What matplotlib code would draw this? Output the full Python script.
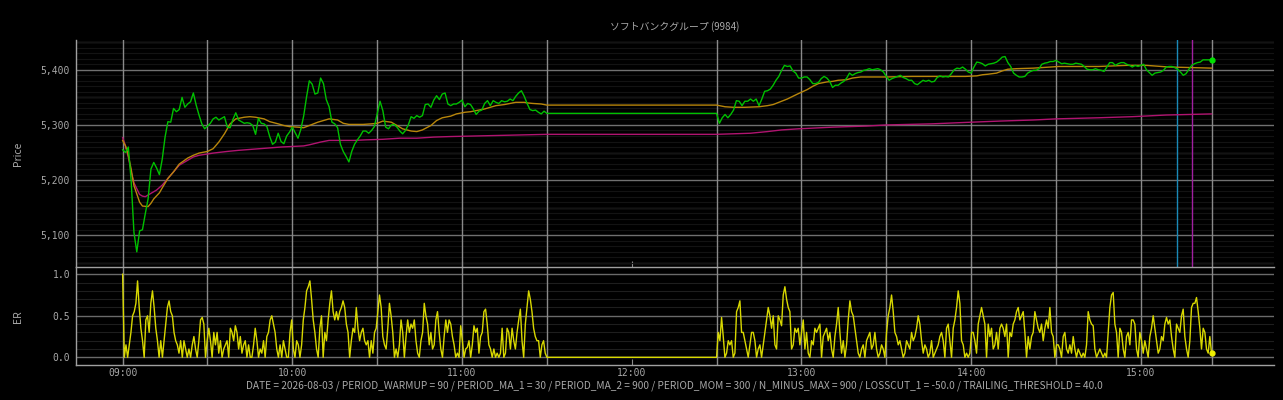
import numpy as np
import matplotlib
matplotlib.use("Agg")
import matplotlib.pyplot as plt
import matplotlib.ticker as ticker

plt.rcParams['font.family'] = ['Noto Sans CJK JP', 'DejaVu Sans']

TITLE = "ソフトバンクグループ (9984)"
FOOTER = ("DATE = 2026-08-03 / PERIOD_WARMUP = 90 / PERIOD_MA_1 = 30 / PERIOD_MA_2 = 900 / "
          "PERIOD_MOM = 300 / N_MINUS_MAX = 900 / LOSSCUT_1 = -50.0 / TRAILING_THRESHOLD = 40.0")

# all times are minutes after 09:00
AM_START, AM_END = 0, 150      # 09:00 - 11:30
PM_START, PM_END = 210, 385    # 12:30 - 15:25

# price, one value per minute
price_am = [
    5255, 5250, 5260, 5200, 5105, 5070, 5108, 5110, 5139, 5166,
    5220, 5232, 5222, 5210, 5238, 5278, 5306, 5305, 5330, 5324,
    5328, 5350, 5332, 5338, 5342, 5358, 5336, 5318, 5302, 5293,
    5298, 5303, 5311, 5314, 5309, 5312, 5315, 5296, 5295, 5310,
    5322, 5309, 5306, 5303, 5304, 5303, 5299, 5283, 5312, 5303,
    5302, 5297, 5279, 5265, 5269, 5285, 5270, 5266, 5280, 5287,
    5296, 5286, 5276, 5292, 5316, 5350, 5380, 5374, 5356, 5358,
    5385, 5375, 5346, 5333, 5305, 5302, 5295, 5265, 5252, 5243,
    5233, 5252, 5265, 5273, 5280, 5289, 5289, 5285, 5290, 5297,
    5320, 5343, 5326, 5296, 5293, 5300, 5301, 5296, 5289, 5284,
    5290, 5300, 5315, 5312, 5317, 5314, 5317, 5337, 5338, 5332,
    5345, 5353, 5346, 5356, 5358, 5338, 5335, 5338, 5338, 5341,
    5345, 5333, 5339, 5337, 5329, 5319, 5325, 5327, 5339, 5344,
    5335, 5344, 5341, 5339, 5344, 5342, 5343, 5347, 5344, 5352,
    5358, 5362, 5352, 5339, 5328, 5326, 5327, 5323, 5320, 5325,
    5321,
]
price_pm = [
    5321, 5303, 5313, 5319, 5313, 5319, 5327, 5344, 5343, 5335,
    5343, 5343, 5347, 5343, 5347, 5335, 5347, 5361, 5362, 5365,
    5372, 5381, 5388, 5399, 5408, 5406, 5407, 5398, 5394, 5385,
    5385, 5387, 5387, 5382, 5375, 5375, 5377, 5384, 5388, 5385,
    5379, 5368, 5372, 5372, 5376, 5379, 5385, 5394, 5390, 5393,
    5395, 5396, 5399, 5400, 5402, 5400, 5401, 5402, 5400, 5396,
    5388, 5381, 5384, 5386, 5388, 5390, 5386, 5384, 5381, 5381,
    5375, 5373, 5377, 5381, 5379, 5381, 5378, 5379, 5386, 5389,
    5387, 5388, 5387, 5393, 5400, 5403, 5402, 5405, 5401, 5396,
    5394, 5405, 5414, 5413, 5411, 5407, 5410, 5411, 5412, 5414,
    5418, 5423, 5424, 5413, 5406, 5394, 5390, 5387, 5387, 5388,
    5394, 5397, 5399, 5399, 5402, 5410, 5412, 5413, 5415, 5415,
    5417, 5414, 5411, 5412, 5411, 5410, 5410, 5412, 5411, 5410,
    5406, 5401, 5400, 5400, 5402, 5400, 5399, 5397, 5405, 5413,
    5413, 5408, 5411, 5413, 5413, 5410, 5408, 5405, 5408, 5406,
    5408, 5410, 5400, 5395, 5390, 5394, 5395, 5396, 5399, 5405,
    5406, 5406, 5404, 5401, 5396, 5390, 5393, 5401, 5408, 5411,
    5413, 5414, 5418, 5418, 5418, 5418,
]

# moving averages read at irregular times
ma1_t = [0, 1, 2, 3, 4, 5, 6, 7, 9, 10, 11, 13, 14, 16, 18, 20, 23, 25, 27, 30,
         32, 34, 36, 38, 40, 43, 45, 47, 50, 52, 55, 57, 59, 62, 64, 66, 69, 71, 73, 76,
         78, 80, 83, 85, 88, 90, 92, 95, 97, 99, 102, 104, 106, 109, 111, 113, 116, 118,
         121, 123, 125, 128, 130, 132, 135, 137, 139, 142, 143, 145, 148, 150,
         210, 213, 216, 220, 225, 228, 230, 232, 235, 237, 239, 242, 244, 246, 249, 251,
         253, 256, 258, 261, 270, 279, 289, 298, 302, 304, 306, 309, 311, 313, 316, 322,
         328, 331, 338, 345, 355, 362, 370, 378, 385]
ma1_v = [5272, 5262, 5245, 5220, 5190, 5175, 5160, 5153, 5152, 5158, 5166, 5177, 5186, 5203,
         5215, 5229, 5240, 5245, 5249, 5252, 5257, 5269, 5284, 5302, 5311, 5314, 5315, 5314,
         5311, 5306, 5302, 5299, 5297, 5296, 5295, 5299, 5305, 5308, 5311, 5309, 5303, 5301,
         5301, 5301, 5302, 5303, 5307, 5305, 5299, 5293, 5289, 5288, 5291, 5299, 5308, 5313,
         5316, 5320, 5323, 5324, 5326, 5329, 5332, 5335, 5337, 5339, 5341, 5341, 5340, 5339,
         5338, 5336,
         5336, 5333, 5332, 5332, 5333, 5335, 5337, 5341, 5347, 5352, 5357, 5364, 5370, 5375,
         5378, 5379, 5381, 5382, 5385, 5387, 5387, 5388, 5388, 5388, 5389, 5391, 5392, 5394,
         5398, 5401, 5402, 5403, 5405, 5406, 5406, 5406, 5408, 5408, 5405, 5404, 5403]

ma2_t = [0, 1, 2, 3, 4, 6, 7, 8, 10, 12, 14, 16, 18, 20, 23, 25, 27, 32, 37, 41, 46, 51,
         56, 60, 64, 66, 70, 73, 82, 86, 92, 98, 104, 110, 116, 133, 150,
         210, 216, 222, 228, 233, 239, 251, 263, 270, 286, 300, 310, 322, 330, 345, 357,
         369, 385]
ma2_v = [5277, 5262, 5242, 5215, 5195, 5174, 5171, 5170, 5176, 5182, 5191, 5203, 5215, 5227,
         5236, 5242, 5245, 5249, 5252, 5254, 5256, 5258, 5260, 5261, 5262, 5264, 5269, 5272,
         5272, 5273, 5274, 5276, 5276, 5278, 5279, 5281, 5283,
         5283, 5284, 5285, 5288, 5291, 5293, 5296, 5298, 5300, 5302, 5305, 5307, 5309, 5311,
         5313, 5315, 5318, 5320]

# efficiency ratio, evenly sampled through each session
er_am = [
    1.0, 0.0, 0.15, 0.0, 0.15, 0.3, 0.5, 0.55, 0.65, 0.92, 0.6, 0.35, 0.2, 0.0, 0.45, 0.5, 0.3,
    0.65, 0.8, 0.6, 0.35, 0.2, 0.0, 0.2, 0.0, 0.2, 0.4, 0.6, 0.68, 0.55, 0.5, 0.3, 0.2, 0.15,
    0.05, 0.2, 0.0, 0.2, 0.1, 0.0, 0.1, 0.0, 0.15, 0.25, 0.1, 0.0, 0.2, 0.45, 0.48, 0.4, 0.0,
    0.2, 0.35, 0.2, 0.0, 0.3, 0.15, 0.3, 0.05, 0.2, 0.0, 0.1, 0.15, 0.2, 0.0, 0.35, 0.3, 0.2,
    0.38, 0.3, 0.1, 0.25, 0.05, 0.15, 0.2, 0.0, 0.15, 0.0, 0.0, 0.15, 0.35, 0.2, 0.0, 0.1,
    0.05, 0.2, 0.0, 0.25, 0.3, 0.45, 0.5, 0.4, 0.3, 0.1, 0.0, 0.15, 0.0, 0.2, 0.1, 0.0, 0.0,
    0.3, 0.45, 0.1, 0.0, 0.2, 0.15, 0.0, 0.15, 0.45, 0.6, 0.8, 0.85, 0.92, 0.7, 0.45, 0.3, 0.1,
    0.0, 0.35, 0.5, 0.0, 0.3, 0.2, 0.45, 0.65, 0.8, 0.55, 0.45, 0.55, 0.45, 0.55, 0.6, 0.68,
    0.6, 0.4, 0.3, 0.0, 0.2, 0.35, 0.3, 0.6, 0.35, 0.2, 0.3, 0.35, 0.2, 0.15, 0.2, 0.0, 0.2,
    0.05, 0.3, 0.35, 0.55, 0.75, 0.6, 0.25, 0.15, 0.1, 0.35, 0.65, 0.5, 0.3, 0.0, 0.1, 0.0,
    0.15, 0.45, 0.3, 0.0, 0.25, 0.45, 0.3, 0.4, 0.35, 0.45, 0.2, 0.05, 0.0, 0.2, 0.3, 0.65,
    0.5, 0.4, 0.15, 0.3, 0.1, 0.15, 0.45, 0.55, 0.3, 0.1, 0.0, 0.25, 0.45, 0.3, 0.45,
    0.4, 0.25, 0.15, 0.0, 0.05, 0.0, 0.38, 0.2, 0.0, 0.1, 0.12, 0.2, 0.0, 0.15, 0.38, 0.3,
    0.35, 0.05, 0.25, 0.3, 0.55, 0.58, 0.4, 0.15, 0.1, 0.0, 0.1, 0.0, 0.05, 0.0, 0.05, 0.35,
    0.0, 0.05, 0.35, 0.3, 0.1, 0.35, 0.2, 0.1, 0.3, 0.45, 0.58, 0.2, 0.0, 0.4, 0.6, 0.8, 0.7,
    0.55, 0.35, 0.25, 0.2, 0.2, 0.0, 0.15, 0.2, 0.05, 0.0,
]
er_pm = [
    0.0, 0.3, 0.2, 0.48, 0.25, 0.0, 0.05, 0.2, 0.15, 0.2, 0.0, 0.05, 0.55, 0.6, 0.68, 0.3,
    0.3, 0.2, 0.1, 0.0, 0.15, 0.3, 0.3, 0.2, 0.0, 0.1, 0.15, 0.0,
    0.15, 0.3, 0.45, 0.6, 0.5, 0.35, 0.5, 0.15, 0.1, 0.5, 0.45, 0.38, 0.75, 0.85, 0.7, 0.6,
    0.55, 0.1, 0.15, 0.35, 0.3, 0.35, 0.15, 0.3, 0.45, 0.1, 0.3, 0.05, 0.0, 0.2, 0.15, 0.35,
    0.3, 0.35, 0.4, 0.0, 0.25, 0.3, 0.35, 0.2, 0.3, 0.1, 0.0, 0.25, 0.4, 0.6, 0.3, 0.05, 0.2,
    0.0, 0.15, 0.45, 0.68, 0.55, 0.5, 0.35, 0.2, 0.05, 0.0, 0.1, 0.15, 0.0, 0.2, 0.25, 0.3,
    0.1, 0.15, 0.3, 0.1, 0.0, 0.05, 0.15, 0.1, 0.0, 0.3, 0.5, 0.6, 0.75, 0.55, 0.3, 0.25,
    0.15, 0.2, 0.1, 0.0, 0.05, 0.2, 0.15, 0.1, 0.3, 0.2, 0.25, 0.35, 0.5, 0.4, 0.2, 0.05,
    0.15, 0.1, 0.0, 0.05, 0.2, 0.0, 0.05, 0.1, 0.15, 0.25, 0.3, 0.2, 0.0, 0.35, 0.4, 0.2, 0.0,
    0.35, 0.45, 0.6, 0.8, 0.65, 0.2, 0.15, 0.0, 0.05, 0.0, 0.05, 0.3, 0.3, 0.2, 0.05, 0.4,
    0.5, 0.6, 0.5, 0.4, 0.0, 0.4, 0.25, 0.35, 0.1, 0.15, 0.3, 0.1, 0.35, 0.4, 0.35, 0.25,
    0.4, 0.0, 0.3, 0.25, 0.4, 0.45, 0.55, 0.6, 0.45, 0.5, 0.55, 0.3, 0.0, 0.25, 0.1, 0.25,
    0.3, 0.55, 0.45, 0.35, 0.3, 0.4, 0.2, 0.35, 0.45, 0.35, 0.6, 0.3, 0.25, 0.0, 0.15, 0.15,
    0.1,
    0.0, 0.25, 0.3, 0.1, 0.05, 0.15, 0.05, 0.25, 0.1, 0.0, 0.1, 0.05, 0.0, 0.05, 0.0, 0.15,
    0.55, 0.45, 0.4, 0.38, 0.1, 0.0, 0.05, 0.1, 0.05, 0.0, 0.05, 0.0, 0.3, 0.6, 0.75, 0.78,
    0.4, 0.3, 0.0, 0.35, 0.3, 0.1, 0.0, 0.25, 0.3, 0.15, 0.45, 0.45, 0.4, 0.1, 0.0, 0.3, 0.2,
    0.05, 0.2, 0.1, 0.0, 0.25, 0.35, 0.5, 0.35, 0.2, 0.05, 0.1, 0.25, 0.2, 0.4, 0.48, 0.4,
    0.45, 0.25, 0.1, 0.0, 0.4, 0.35, 0.3, 0.5, 0.58, 0.25, 0.1, 0.0, 0.2, 0.6, 0.65, 0.65,
    0.72, 0.55, 0.35, 0.1, 0.35, 0.3, 0.1, 0.05, 0.25, 0.05,
]

# session grid lines and trade markers (minutes after 09:00)
session_lines = [0, 30, 60, 90, 120, 150, 210, 240, 270, 300, 330, 360, 385]
entry_time = 372.7
exit_time = 378.0
hour_ticks = [0, 60, 120, 180, 240, 300, 360]

# ---- build x positions
t_price = np.concatenate([np.arange(AM_START, AM_END + 1), np.arange(PM_START, PM_END + 1)])
y_price = np.array(price_am + price_pm, dtype=float)
t_er = np.concatenate([np.linspace(AM_START, AM_END, len(er_am)),
                       np.linspace(PM_START, PM_END, len(er_pm))])
y_er = np.array(er_am + er_pm)

TXT = '#a8a8a8'
fig = plt.figure(figsize=(12.83, 4.0), dpi=100, facecolor='black')
gs = fig.add_gridspec(2, 1, height_ratios=[227.3, 98], hspace=0,
                      left=0.059, right=0.993, top=0.9, bottom=0.0868)
ax = fig.add_subplot(gs[0])
ax2 = fig.add_subplot(gs[1], sharex=ax)

for a in (ax, ax2):
    a.set_facecolor('black')
    for s in ('top', 'right', 'bottom'):
        a.spines[s].set_visible(False)
    a.spines['left'].set_color('#a0a0a0')
    a.spines['left'].set_linewidth(1.0)
    for t in session_lines:
        a.axvline(t, color='#8a8a8a', lw=1.0, zorder=1)
    a.tick_params(axis='x', direction='in', length=4, color='#8a8a8a')
    a.tick_params(axis='y', length=0, pad=4, labelcolor=TXT)
    a.set_axisbelow(True)
# divider between the panels and the bottom frame line
ax2.spines['top'].set_visible(True)
ax2.spines['bottom'].set_visible(True)
for s in ('top', 'bottom'):
    ax2.spines[s].set_color('#a0a0a0')
    ax2.spines[s].set_linewidth(1.0)

# price panel
ax.yaxis.set_major_locator(ticker.MultipleLocator(100))
ax.yaxis.set_minor_locator(ticker.MultipleLocator(10))
ax.grid(which='major', axis='y', color='#707070', lw=1.0, zorder=0)
ax.grid(which='minor', axis='y', color='#131313', lw=0.8, zorder=0)
for lvl in (5050, 5150, 5250, 5350, 5450):
    ax.axhline(lvl, color='#3c3c3c', lw=1.0, zorder=0.5)
ax.yaxis.set_major_formatter(ticker.FuncFormatter(lambda v, p: f"{v:,.0f}"))
ax.set_ylim(5042, 5454)

ax.plot(ma2_t, ma2_v, color='#b01470', lw=1.0, zorder=3)
ax.plot(ma1_t, ma1_v, color='#b8860b', lw=1.0, zorder=3)
ax.plot(t_price, y_price, color='#00c000', lw=1.0, zorder=4)
ax.plot(t_price[-1], y_price[-1], 'o', color='#00e000', ms=3.5, zorder=5)
ax.axvline(entry_time, color='#1a8ab8', lw=1.0, zorder=2)
ax.axvline(exit_time, color='#a020a0', lw=1.0, zorder=2)
ax.set_title(TITLE, color=TXT, fontsize=7.1, pad=7)
ax.set_ylabel("Price", color=TXT, fontsize=7.5)
ax.yaxis.set_label_coords(-0.0437, 0.5)
plt.setp(ax.get_xticklabels(), visible=False)

# ER panel
ax2.yaxis.set_major_locator(ticker.MultipleLocator(0.5))
ax2.yaxis.set_minor_locator(ticker.MultipleLocator(0.1))
ax2.grid(which='major', axis='y', color='#6a6a6a', lw=1.0, zorder=0)
ax2.grid(which='minor', axis='y', color='#1e1e1e', lw=0.8, zorder=0)
ax2.yaxis.set_major_formatter(ticker.FormatStrFormatter('%.1f'))
ax2.set_ylim(-0.096, 1.084)
ax2.plot(t_er, y_er, color='#d8d800', lw=1.0, zorder=3)
ax2.plot(t_er[-1], y_er[-1], 'o', color='#f0f000', ms=3.5, zorder=5)
ax2.set_ylabel("ER", color=TXT, fontsize=7.5)
ax2.yaxis.set_label_coords(-0.0437, 0.5)

ax2.set_xlim(-16.6, 407.1)
ax2.set_xticks(hour_ticks)
ax2.xaxis.set_major_formatter(ticker.FuncFormatter(lambda v, p: f"{9 + int(v) // 60:02d}:{int(v) % 60:02d}"))
ax2.tick_params(axis='x', labelcolor=TXT, pad=2)
for lab in ax2.get_xticklabels() + ax.get_yticklabels() + ax2.get_yticklabels():
    lab.set_fontfamily('DejaVu Sans Mono')
    lab.set_fontsize(7)
ax2.set_xlabel(FOOTER, color=TXT, fontsize=7.3, labelpad=1.5)

fig.savefig("out.png", dpi=100, facecolor='black')
